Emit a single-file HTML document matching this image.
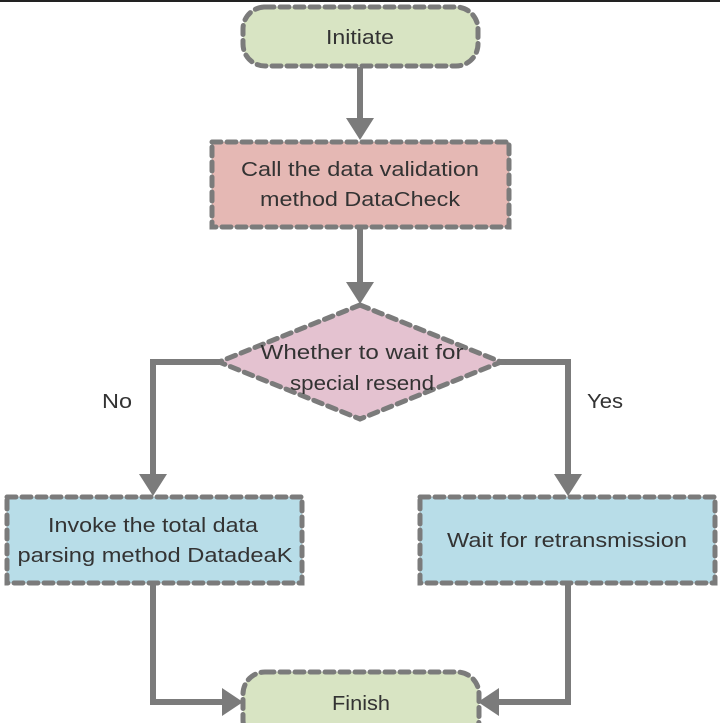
<!DOCTYPE html>
<html><head><meta charset="utf-8"><style>html,body{margin:0;padding:0;background:#fff}svg{display:block}</style></head>
<body>
<svg width="720" height="723" viewBox="0 0 720 723" xmlns="http://www.w3.org/2000/svg" font-family="Liberation Sans, sans-serif" font-size="20" fill="#333">
<defs><marker id="a" markerWidth="10" markerHeight="10" refX="8" refY="5" orient="auto" markerUnits="userSpaceOnUse"><path d="M0,0 L0,0 L10,5 L0,10 Z" fill="none"/></marker></defs>
<rect x="0" y="0" width="720" height="2" fill="#222"/>
<g stroke="#7b7b7b" stroke-width="6" fill="none">
<path d="M360 67 V122"/><path d="M360 228 V286"/>
<path d="M220 362 H153 V478"/><path d="M500 362 H568 V478"/>
<path d="M153 585 V702 H225"/><path d="M568 585 V702 H497"/>
</g>
<g fill="#7b7b7b">
<path d="M346 118 L374 118 L360 140 Z"/>
<path d="M346 282 L374 282 L360 304 Z"/>
<path d="M139 474 L167 474 L153 496 Z"/>
<path d="M554 474 L582 474 L568 496 Z"/>
<path d="M222 688 L222 716 L243 702 Z"/>
<path d="M499 688 L499 716 L478 702 Z"/>
</g>
<g stroke="#7b7b7b" stroke-width="5" stroke-dasharray="9 6" stroke-linecap="round">
<rect x="243" y="7" width="235" height="59" rx="22" fill="#d8e4c3"/>
<rect x="212" y="142" width="297" height="85" fill="#e5b8b4"/>
<path d="M360 305 L501 362 L360 419 L219 362 Z" fill="#e4c2d0"/>
<rect x="7" y="497" width="295" height="86" fill="#b8dde8"/>
<rect x="420" y="497" width="295" height="86" fill="#b8dde8"/>
<rect x="243" y="672" width="236" height="70" rx="22" fill="#d8e4c3"/>
</g>
<g text-anchor="middle">
<text x="360" y="44" textLength="68" lengthAdjust="spacingAndGlyphs">Initiate</text>
<text x="360" y="176" textLength="238" lengthAdjust="spacingAndGlyphs">Call the data validation</text>
<text x="360" y="206" textLength="200" lengthAdjust="spacingAndGlyphs">method DataCheck</text>
<text x="362" y="359" textLength="203" lengthAdjust="spacingAndGlyphs">Whether to wait for</text>
<text x="362" y="390" textLength="144" lengthAdjust="spacingAndGlyphs">special resend</text>
<text x="153" y="532" textLength="210" lengthAdjust="spacingAndGlyphs">Invoke the total data</text>
<text x="155" y="562" textLength="275" lengthAdjust="spacingAndGlyphs">parsing method DatadeaK</text>
<text x="567" y="547" textLength="240" lengthAdjust="spacingAndGlyphs">Wait for retransmission</text>
<text x="361" y="710" textLength="58" lengthAdjust="spacingAndGlyphs">Finish</text>
<text x="117" y="408" textLength="30" lengthAdjust="spacingAndGlyphs">No</text>
<text x="605" y="408" textLength="36" lengthAdjust="spacingAndGlyphs">Yes</text>
</g>
</svg>
</body></html>
